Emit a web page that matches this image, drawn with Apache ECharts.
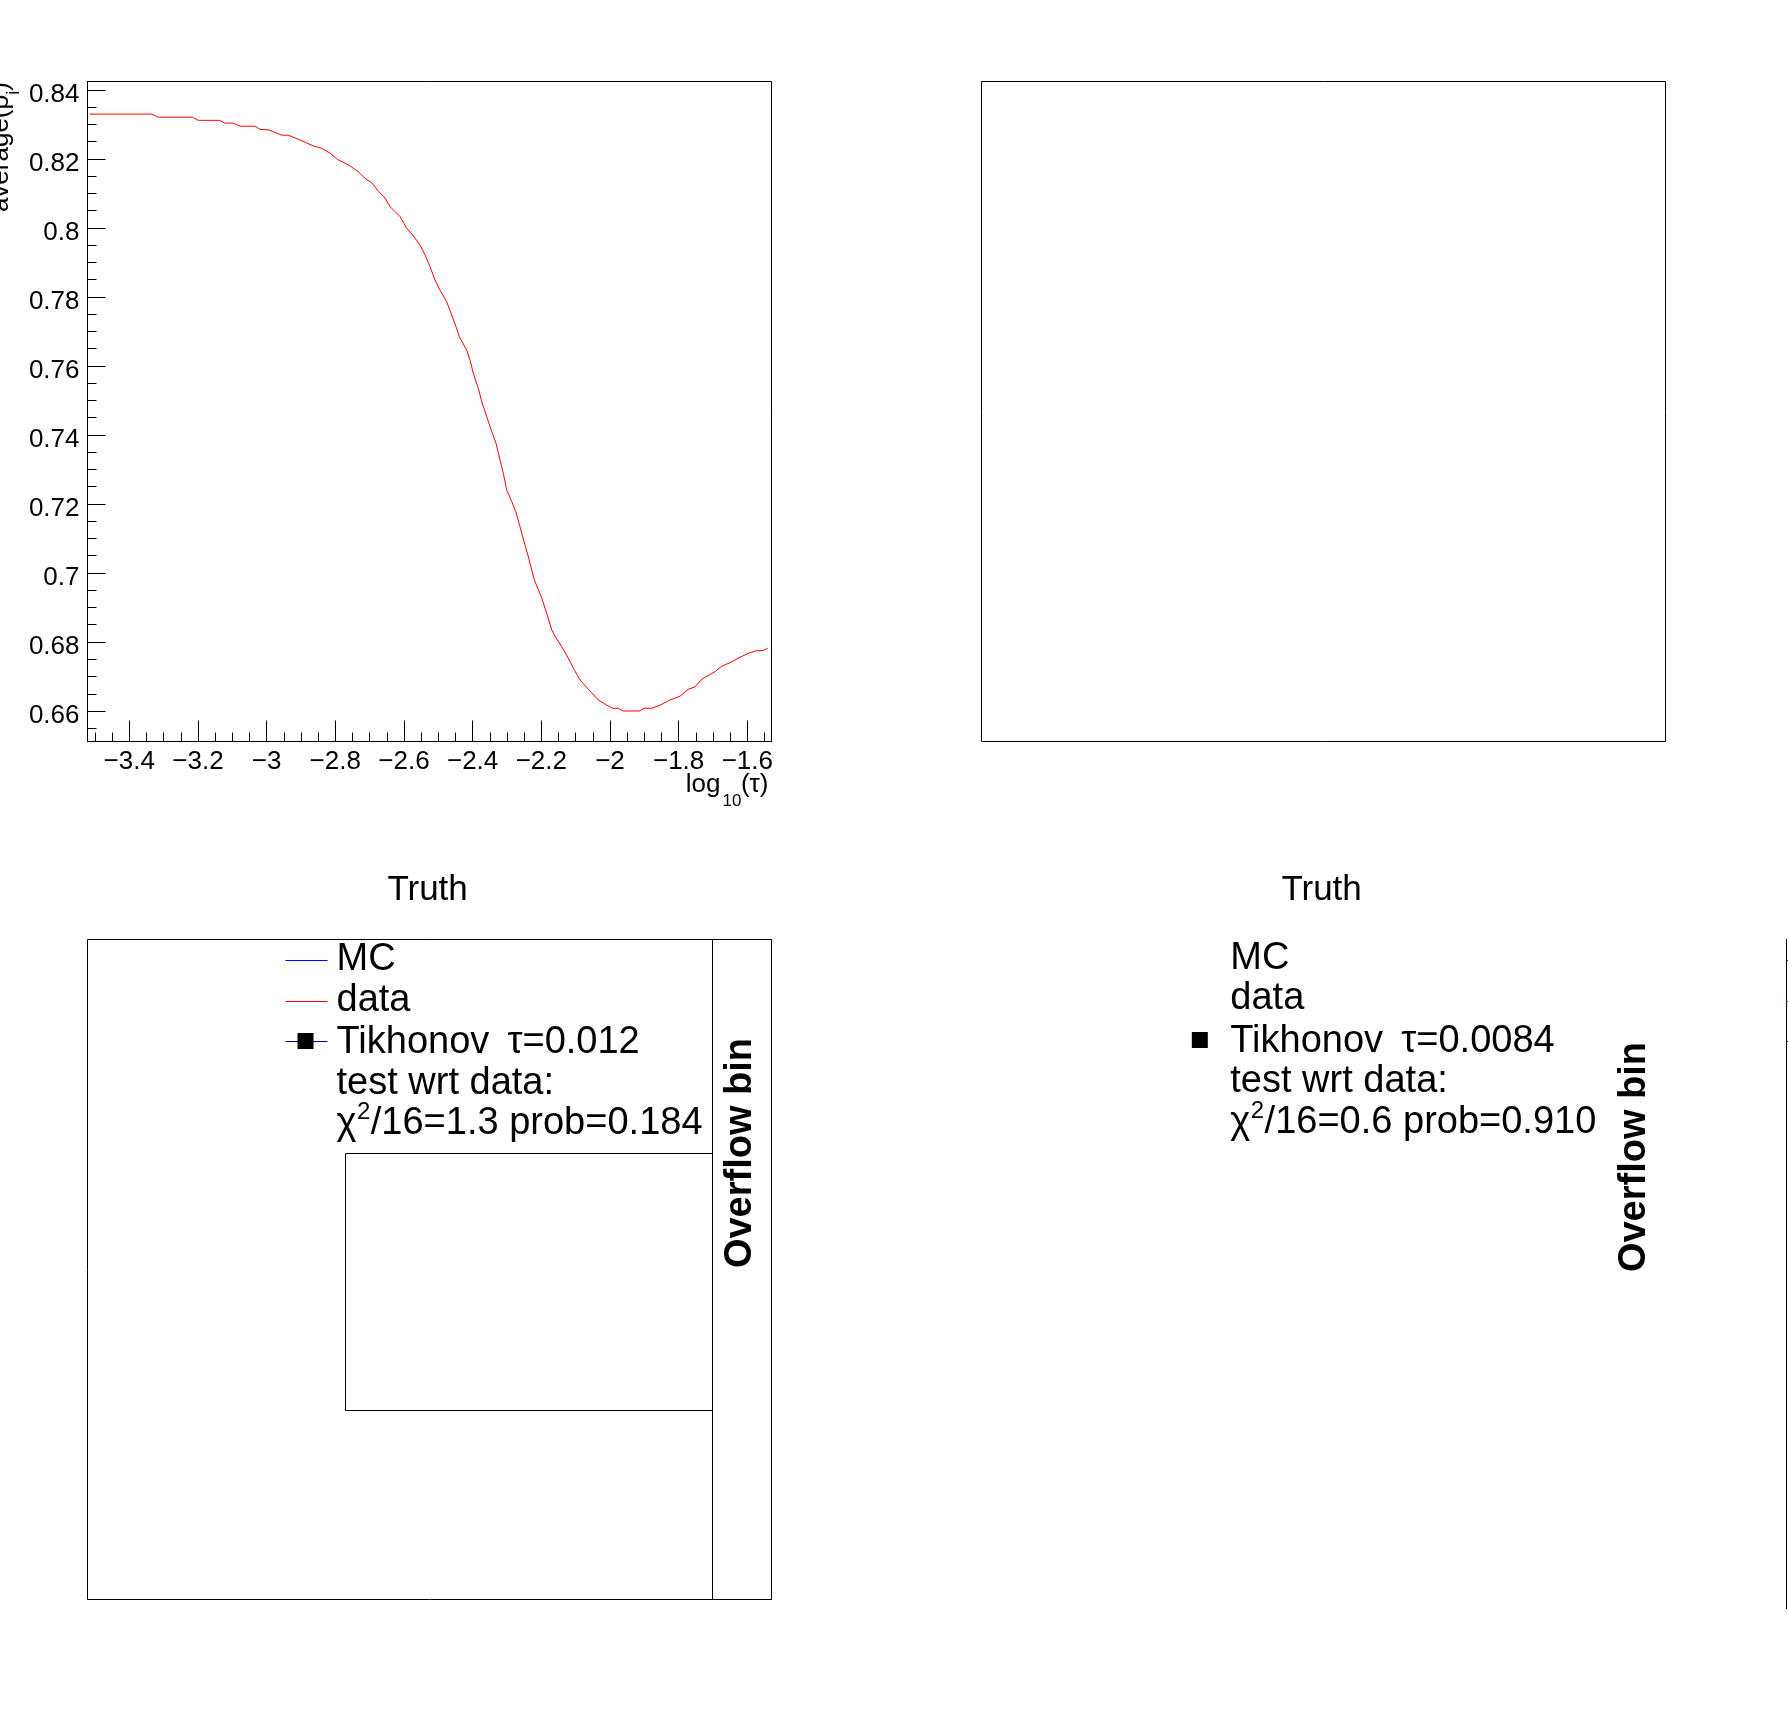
<!DOCTYPE html>
<html><head><meta charset="utf-8">
<script src="https://cdn.jsdelivr.net/npm/echarts@6/dist/echarts.min.js"></script>
<style>html,body{margin:0;padding:0;background:#fff}#c{width:1788px;height:1716px}</style>
</head><body><div id="c"></div>
<script>
// ---- data (scan of average rho vs log10(tau)) ----
const logTau = [-3.5145,-3.3348,-3.3155,-3.2153,-3.1990,-3.1378,-3.1212,-3.0971,-3.0775,-3.0339,
  -3.0193,-2.9922,-2.9561,-2.9368,-2.9028,-2.8640,-2.8396,-2.8154,-2.7941,-2.7571,
  -2.7330,-2.7134,-2.6939,-2.6747,-2.6552,-2.6406,-2.6115,-2.5920,-2.5727,-2.5532,
  -2.5387,-2.5241,-2.5095,-2.4950,-2.4754,-2.4609,-2.4484,-2.4387,-2.4172,-2.4076,
  -2.3980,-2.3834,-2.3735,-2.3589,-2.3444,-2.3318,-2.3202,-2.3106,-2.3007,-2.2861,
  -2.2745,-2.2619,-2.2503,-2.2377,-2.2278,-2.2203,-2.1987,-2.1842,-2.1696,-2.1600,
  -2.1405,-2.1259,-2.1067,-2.0872,-2.0630,-2.0338,-2.0094,-1.9919,-1.9756,-1.9610,
  -1.9144,-1.8999,-1.8783,-1.8541,-1.8250,-1.7959,-1.7717,-1.7522,-1.7327,-1.6939,
  -1.6744,-1.6502,-1.6211,-1.5969,-1.5725,-1.5550,-1.5404];
const rhoAvg = [0.8330,0.8330,0.8321,0.8321,0.8312,0.8312,0.8304,0.8304,0.8295,0.8295,
  0.8286,0.8284,0.8269,0.8269,0.8255,0.8238,0.8231,0.8217,0.8199,0.8180,
  0.8163,0.8144,0.8131,0.8107,0.8087,0.8062,0.8033,0.7999,0.7977,0.7951,
  0.7922,0.7888,0.7849,0.7820,0.7786,0.7748,0.7714,0.7685,0.7646,0.7617,
  0.7579,0.7535,0.7497,0.7453,0.7410,0.7376,0.7328,0.7289,0.7241,0.7207,
  0.7178,0.7134,0.7091,0.7047,0.7009,0.6980,0.6927,0.6883,0.6835,0.6817,
  0.6786,0.6762,0.6724,0.6690,0.6663,0.6632,0.6617,0.6608,0.6608,0.6600,
  0.6600,0.6608,0.6608,0.6617,0.6632,0.6643,0.6663,0.6670,0.6692,0.6714,
  0.6730,0.6740,0.6756,0.6767,0.6775,0.6775,0.6782];
const xTickLabels = [-3.4,-3.2,-3,-2.8,-2.6,-2.4,-2.2,-2,-1.8,-1.6];
const xMinorTicks = [-3.5,-3.45,-3.35,-3.3,-3.25,-3.15,-3.1,-3.05,-2.95,-2.9,-2.85,-2.75,-2.7,-2.65,
  -2.55,-2.5,-2.45,-2.35,-2.3,-2.25,-2.15,-2.1,-2.05,-1.95,-1.9,-1.85,-1.75,-1.7,-1.65,-1.55];
const yTickLabels = [0.66,0.68,0.70,0.72,0.74,0.76,0.78,0.80,0.82,0.84];
const yMinorTicks = [0.655,0.665,0.67,0.675,0.685,0.69,0.695,0.705,0.71,0.715,0.725,0.73,0.735,
  0.745,0.75,0.755,0.765,0.77,0.775,0.785,0.79,0.795,0.805,0.81,0.815,0.825,0.83,0.835];
const legendLeft = ['MC','data','Tikhonov \u2009\u03c4=0.012','test wrt data:'];
const legendRight = ['MC','data','Tikhonov \u2009\u03c4=0.0084','test wrt data:'];
const chiLeft = ['\u03c7', '2', '/16=1.3 prob=0.184'];
const chiRight = ['\u03c7', '2', '/16=0.6 prob=0.910'];
const xRange = [-3.5217, -1.5295];
const yRange = [0.65116, 0.84246];

const FF = "'Liberation Sans', Arial, Helvetica, sans-serif";
const chart = echarts.init(document.getElementById('c'), null, {renderer:'canvas', width:1788, height:1716});
const mctx = document.createElement('canvas').getContext('2d');
function tw(s, font){ mctx.font = font; return mctx.measureText(s).width; }

function T(x, y, text, size, align, extra) {
  return Object.assign({type:'text', x:x, y:y, silent:true,
    style:{text:text, font: size + 'px ' + FF, fill:'#000', align:align||'left', verticalAlign:'middle'}}, extra||{});
}
function L(x1,y1,x2,y2,color){
  return {type:'line', silent:true, shape:{x1:x1,y1:y1,x2:x2,y2:y2}, style:{stroke:color, lineWidth:1}};
}
const minusFmt = v => (v < 0 ? '\u2212' : '') + Math.abs(v);

const elements = [];
// y-axis title (rotated)
elements.push({type:'group', x:9, y:82, rotation:Math.PI/2, children:[
  T(-12.7, -8.6, 'average(\u03c1', 26, 'right'),
  T(-8.7, 5, 'i', 18, 'right'),
  T(0, -8.6, ')', 26, 'right')
]});
// x-axis title
elements.push(T(768.5, 784.8, '(\u03c4)', 26, 'right'));
elements.push(T(741.5, 801.4, '10', 17, 'right'));
elements.push(T(720.5, 784.8, 'log', 26, 'right'));
// Titles
elements.push(T(427.6, 890.8, 'Truth', 35, 'center'));
elements.push(T(1321.6, 890.3, 'Truth', 35, 'center'));
// legends
const legY = [959.3, 1000.2, 1042.6, 1083.2, 1124];
function chiLine(x, y, parts) {
  const w0 = tw(parts[0], '38px ' + FF);
  const w1 = tw(parts[1], '24px ' + FF);
  elements.push(T(x, y, parts[0], 38, 'left'));
  elements.push(T(x + w0 + 0.5, y - 11.5, parts[1], 24, 'left'));
  elements.push(T(x + w0 + w1 + 1, y, parts[2], 38, 'left'));
}
legendLeft.forEach((s,i)=>elements.push(T(336.5, legY[i], s, 38, 'left')));
legendRight.forEach((s,i)=>elements.push(T(1230.3, legY[i]-1.2, s, 38, 'left')));
chiLine(336.5, legY[4], chiLeft);
chiLine(1230.3, legY[4]-1.2, chiRight);
elements.push(L(285.5,960.5,327.5,960.5,'#0000ff'));
elements.push(L(285.5,1001.5,327.5,1001.5,'#ff0000'));
elements.push(L(285.5,1041.5,327.5,1041.5,'#000080'));
elements.push({type:'rect', silent:true, shape:{x:297.5,y:1033,width:16,height:16}, style:{fill:'#000'}});
elements.push({type:'rect', silent:true, shape:{x:1191.8,y:1032,width:16,height:16}, style:{fill:'#000'}});
// Overflow bin labels
const OB = 'bold 38px ' + FF;
elements.push({type:'group', x:741, y:1153, rotation:Math.PI/2, children:[
  {type:'text', x:0, y:0, silent:true, style:{text:'Overflow bin', font:OB, fill:'#000', align:'center', verticalAlign:'middle'}}]});
elements.push({type:'group', x:1635, y:1157, rotation:Math.PI/2, children:[
  {type:'text', x:0, y:0, silent:true, style:{text:'Overflow bin', font:OB, fill:'#000', align:'center', verticalAlign:'middle'}}]});
// right-edge frame fragment
elements.push(L(1786.5,939,1786.5,1609,'#000'));
elements.push(L(1787,960.5,1788,960.5,'#0000ff'));
elements.push(L(1787,1001.5,1788,1001.5,'#ff0000'));
elements.push(L(1787,1041.5,1788,1041.5,'#000080'));

const frame = {show:true, borderColor:'#000', borderWidth:1, backgroundColor:'transparent', containLabel:false, outerBoundsMode:'none'};
const grids = [
  Object.assign({left:87.5, top:81.5, width:684, height:660}, frame),
  Object.assign({left:981.5, top:81.5, width:684, height:660}, frame),
  Object.assign({left:87.5, top:939.5, width:684, height:660}, frame),
  Object.assign({left:712.5, top:939.5, width:59, height:660}, frame),
  Object.assign({left:345.5, top:1153.5, width:367, height:257}, frame)
];
const hidden = i => ({type:'value', gridIndex:i, show:false, splitLine:{show:false}});

const axisCommon = {
  axisLine:{show:true, lineStyle:{color:'#000', width:1}},
  splitLine:{show:false}, minorTick:{show:false}, minorSplitLine:{show:false}
};

const option = {
  animation:false,
  backgroundColor:'#fff',
  grid: grids,
  xAxis: [
    Object.assign({type:'value', gridIndex:0, min:xRange[0], max:xRange[1], position:'bottom',
      axisTick:{show:true, inside:true, length:21, customValues:xTickLabels, lineStyle:{color:'#000', width:1}},
      axisLabel:{show:true, customValues:xTickLabels, formatter:minusFmt, margin:7, color:'#000', fontSize:26, fontFamily:FF}
    }, axisCommon),
    Object.assign({type:'value', gridIndex:0, min:xRange[0], max:xRange[1], position:'bottom',
      axisTick:{show:true, inside:true, length:9, customValues:xMinorTicks, lineStyle:{color:'#000', width:1}},
      axisLabel:{show:false}
    }, axisCommon),
    hidden(1), hidden(2), hidden(3), hidden(4)
  ],
  yAxis: [
    Object.assign({type:'value', gridIndex:0, min:yRange[0], max:yRange[1], position:'left',
      axisTick:{show:true, inside:true, length:18, customValues:yTickLabels, lineStyle:{color:'#000', width:1}},
      axisLabel:{show:true, customValues:yTickLabels, margin:8, color:'#000', fontSize:26, fontFamily:FF,
        verticalAlign:'top', lineHeight:9}
    }, axisCommon),
    Object.assign({type:'value', gridIndex:0, min:yRange[0], max:yRange[1], position:'left',
      axisTick:{show:true, inside:true, length:9, customValues:yMinorTicks, lineStyle:{color:'#000', width:1}},
      axisLabel:{show:false}
    }, axisCommon),
    hidden(1), hidden(2), hidden(3), hidden(4)
  ],
  series: [{
    type:'line', xAxisIndex:0, yAxisIndex:0, showSymbol:false, symbol:'none', smooth:false,
    lineStyle:{color:'#ff0000', width:1}, itemStyle:{color:'#ff0000'}, clip:true,
    data: logTau.map((x,i)=>[x, rhoAvg[i]])
  }],
  graphic: elements
};
chart.setOption(option);
</script></body></html>
